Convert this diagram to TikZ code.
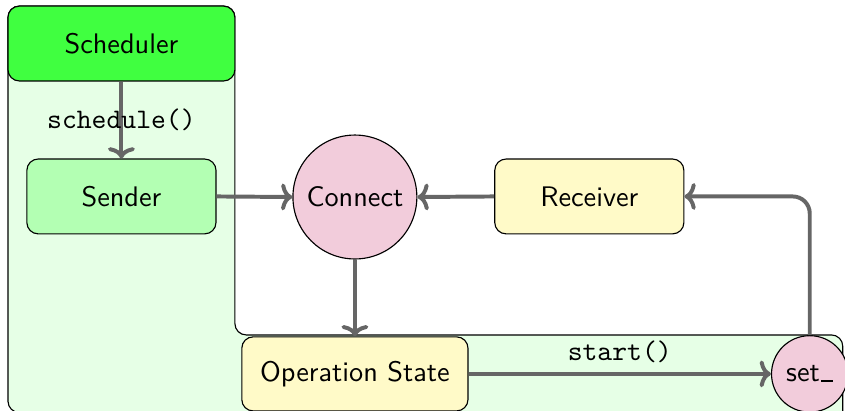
\documentclass[tikz,border=0pt]{standalone}
\usepackage{tikz}
\usetikzlibrary{arrows.meta}
\definecolor{schedgreen}{RGB}{64,255,64}
\definecolor{sendgreen}{RGB}{179,255,179}
\definecolor{areagreen}{RGB}{230,255,230}
\definecolor{statepink}{RGB}{242,204,219}
\definecolor{boxyellow}{RGB}{255,250,200}
\tikzstyle{block} = [rectangle, draw, rounded corners=4pt,
                 minimum height=0.93cm, font=\sffamily]
\tikzstyle{state} = [circle, draw, fill=statepink, inner sep=0pt,
                 font=\sffamily]
\tikzstyle{flow} = [draw, black!60, line width=1.4pt,
                 -{To[length=4pt, width=9.5pt]}]

\begin{document}
\begin{tikzpicture}

\path[use as bounding box, clip] (0,0) rectangle (10.5,5.106);

% execution context
\draw [fill=areagreen, rounded corners=4pt] (0.099,-0.02) -- (0.099,5.031)
	-- (2.919,5.031) -- (2.919,0.944) -- (10.472,0.944)
	-- (10.472,-0.3) -- (5,-0.3) -- (5,-0.02) -- cycle;

\node [block, fill=schedgreen, minimum width=2.82cm] at (1.509,4.565) (sched) {Scheduler};
\node [block, fill=sendgreen, minimum width=2.35cm] at (1.509,2.665) (sender) {Sender};
\node [state, minimum size=1.54cm] at (4.410,2.658) (connect) {Connect};
\node [block, fill=boxyellow, minimum width=2.35cm] at (7.323,2.665) (receiver) {Receiver};
\node [block, fill=boxyellow, minimum width=2.81cm, minimum height=0.92cm] at (4.410,0.460) (opstate) {Operation State};
\node [state, minimum size=0.95cm] at (10.062,0.460) (setv) {set\kern.06em\rule{.42em}{.6pt}};

\path [flow] (sched.south) -- node[black] {\texttt{schedule()}} (sender.north);
\path [flow] (sender.east) -- (connect.west);
\path [flow] (receiver.west) -- (connect.east);
\path [flow] (connect.south) -- (opstate.north);
\path [flow] (opstate.east) -- node[black, above] {\texttt{start()}} (setv.west);
\path [flow, rounded corners=6pt] (setv.north) |- (receiver.east);

\end{tikzpicture}
\end{document}
